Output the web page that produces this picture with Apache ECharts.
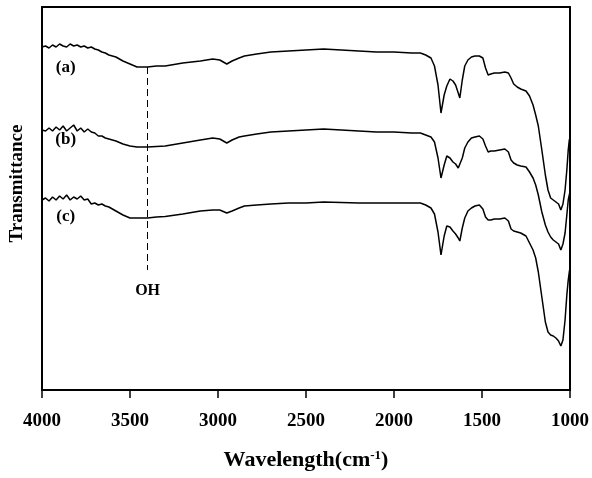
<!DOCTYPE html>
<html>
<head>
<meta charset="utf-8">
<script src="https://cdn.jsdelivr.net/npm/echarts@6/dist/echarts.min.js"></script>
<style>
    html, body { margin: 0; padding: 0; background: #fff; }
    #chart { width: 592px; height: 478px; }
</style>
</head>
<body>
<div id="chart"></div>
<script>
// wavenumber grid (cm-1), shared by the three spectra
var waveNumber = [
    4000, 3980, 3960, 3940, 3920, 3900, 3880, 3860, 3840, 3820, 3800, 3780, 3760, 3740, 3720, 3700, 3680, 3660, 3640, 3620,
    3580, 3540, 3500, 3460, 3400, 3350, 3300, 3200, 3100, 3030, 2990, 2950, 2920, 2880, 2850, 2780, 2700, 2600, 2500, 2400,
    2300, 2200, 2100, 2000, 1900, 1850, 1820, 1790, 1770, 1750, 1733, 1715, 1700, 1682, 1665, 1650, 1635, 1626, 1612, 1598,
    1580, 1560, 1540, 1515, 1495, 1480, 1465, 1450, 1430, 1400, 1370, 1350, 1335, 1320, 1300, 1280, 1250, 1230, 1210, 1195,
    1180, 1160, 1140, 1125, 1110, 1095, 1080, 1065, 1052, 1040, 1028, 1018, 1010, 1004, 1000
];

// transmittance, arbitrary units (curves are offset)
var specA = [
    343, 344, 342, 345, 343, 346, 344, 343, 346, 344, 345, 343, 344, 342, 343, 341, 340, 338, 337, 335,
    333, 329, 326, 323, 323, 324, 324, 327, 329, 331, 330, 326, 329, 332, 334, 336, 338, 339, 340, 341,
    340, 339, 338, 338, 337, 337, 335, 332, 324, 305, 277, 295, 304, 311, 309, 305, 297, 292, 310, 324,
    330, 333, 334, 334, 332, 322, 315, 316, 317, 317, 318, 317, 312, 306, 303, 301, 299, 294, 285, 275,
    264, 240, 215, 200, 192, 190, 188, 186, 180, 186, 200, 220, 240, 250, 252
];
var specB = [
    260, 259, 262, 259, 263, 260, 264, 259, 262, 265, 259, 262, 258, 261, 258, 257, 254, 254, 252, 251,
    249, 246, 244, 243, 243, 243.5, 244, 247, 250, 252, 251, 247, 250, 253, 254, 256, 258, 259, 260, 261,
    260, 259, 258, 258, 257, 257, 255, 253, 248, 232, 212, 225, 234, 232, 228, 226, 222, 220, 232, 242,
    248, 252, 253, 254, 251, 244, 238, 239, 239, 240, 241, 238, 230, 227, 225, 224, 223, 218, 212, 205,
    195, 178, 165, 158, 153, 150, 148, 146, 140, 146, 157, 175, 190, 195, 198
];
var specC = [
    190, 192, 189, 193, 190, 194, 191, 195, 190, 193, 191, 194, 190, 191, 186, 187, 185, 186, 184, 183,
    179, 175, 172, 172, 172, 173, 173.5, 176, 179, 180, 180, 177, 179, 182, 184, 185, 186, 187, 187, 188,
    187.5, 187, 187, 187, 187, 187, 185, 182, 176, 158, 135, 154, 164, 163, 159, 156, 152, 149, 162, 172,
    179, 182, 184, 185, 181, 173, 170, 170, 171, 171, 172, 169, 161, 159, 158, 157, 154, 147, 140, 132,
    118, 93, 68, 58, 55, 54, 52, 49, 44, 50, 70, 95, 110, 118, 122
];

var seriesNames = ["(a)", "(b)", "(c)"];
var xTicks = [4000, 3500, 3000, 2500, 2000, 1500, 1000];
var ohBand = 3400;

var serif = "Liberation Serif";

function pairs(ys) {
    return waveNumber.map(function (w, i) {
        return [w, ys[i]];
    });
}

function tag(text, wn, y) {
    return {
        coord: [wn, y],
        symbolSize: 0,
        label: {
            show: true,
            position: "inside",
            formatter: text,
            color: "#000",
            fontSize: 17,
            fontWeight: "bold",
            fontFamily: serif
        }
    };
}

var chart = echarts.init(document.getElementById("chart"));

chart.setOption({
    animation: false,
    backgroundColor: "#fff",
    grid: {
        left: 39,
        right: 21,
        top: 7,
        bottom: 88,
        show: true,
        borderColor: "#000",
        borderWidth: 2
    },
    xAxis: {
        type: "value",
        inverse: true,
        min: xTicks[xTicks.length - 1],
        max: xTicks[0],
        interval: 500,
        name: "Wavelength(cm{sup|-1})",
        nameLocation: "middle",
        nameGap: 59,
        nameTextStyle: {
            color: "#000",
            fontSize: 22,
            fontWeight: "bold",
            fontFamily: serif,
            rich: {
                sup: {
                    fontSize: 13,
                    fontWeight: "bold",
                    fontFamily: serif,
                    verticalAlign: "top",
                    padding: [0, 0, 10, 0]
                }
            }
        },
        axisLine: { lineStyle: { color: "#000", width: 2 } },
        axisTick: { inside: false, length: 8, lineStyle: { color: "#000", width: 1.5 } },
        axisLabel: {
            color: "#000",
            fontSize: 19,
            fontWeight: "bold",
            fontFamily: serif,
            margin: 22,
            formatter: function (v) {
                return String(v);
            }
        },
        splitLine: { show: false }
    },
    yAxis: {
        type: "value",
        min: 0,
        max: 383,
        name: "Transmittance",
        nameLocation: "middle",
        nameGap: 15,
        nameTextStyle: {
            color: "#000",
            fontSize: 19,
            fontWeight: "bold",
            fontFamily: serif,
            padding: [0, 0, 0, 30]
        },
        axisLine: { show: true, lineStyle: { color: "#000", width: 2 } },
        axisTick: { show: false },
        axisLabel: { show: false },
        splitLine: { show: false }
    },
    series: [
        {
            name: seriesNames[0],
            type: "line",
            data: pairs(specA),
            showSymbol: false,
            lineStyle: { color: "#000", width: 1.5 },
            markPoint: { data: [tag(seriesNames[0], 3865, 322)] },
            markLine: {
                silent: true,
                symbol: "none",
                lineStyle: { color: "#000", width: 1, type: [7, 4] },
                label: {
                    show: true,
                    position: "end",
                    distance: 13,
                    formatter: "OH",
                    color: "#000",
                    fontSize: 16,
                    fontWeight: "bold",
                    fontFamily: serif
                },
                data: [[{ coord: [ohBand, 323] }, { coord: [ohBand, 120] }]]
            }
        },
        {
            name: seriesNames[1],
            type: "line",
            data: pairs(specB),
            showSymbol: false,
            lineStyle: { color: "#000", width: 1.5 },
            markPoint: { data: [tag(seriesNames[1], 3865, 250)] }
        },
        {
            name: seriesNames[2],
            type: "line",
            data: pairs(specC),
            showSymbol: false,
            lineStyle: { color: "#000", width: 1.5 },
            markPoint: { data: [tag(seriesNames[2], 3865, 173)] }
        }
    ]
});
</script>
</body>
</html>
